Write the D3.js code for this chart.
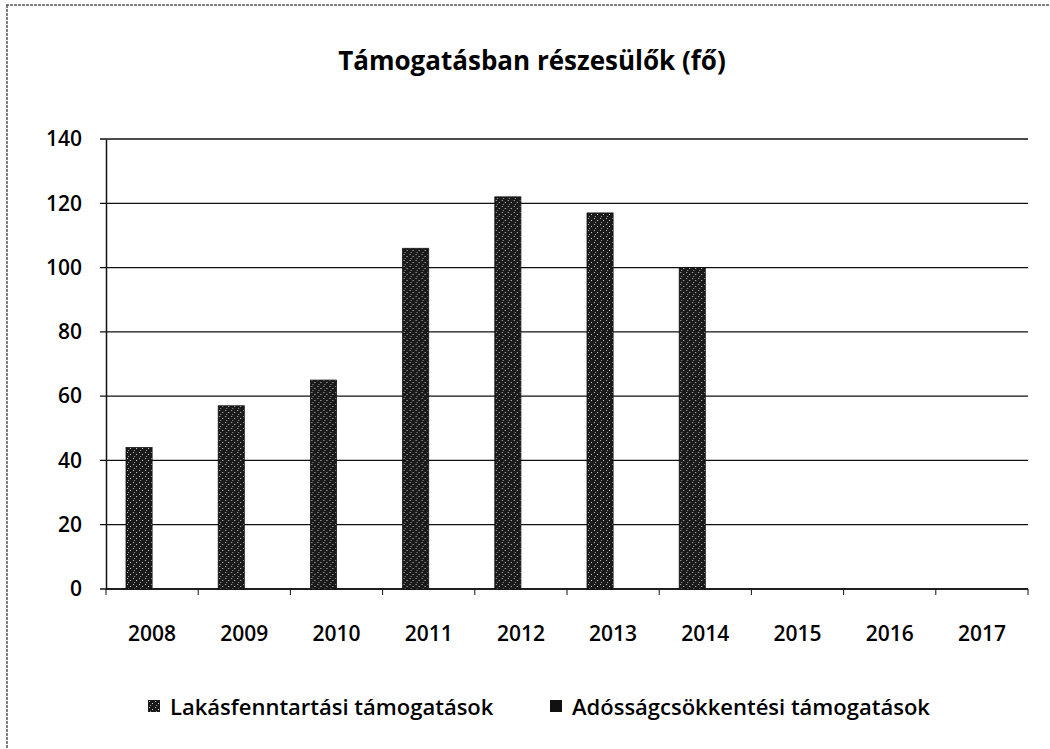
<!DOCTYPE html>
<html>
<head>
<meta charset="utf-8">
<script src="https://cdnjs.cloudflare.com/ajax/libs/d3/7.8.5/d3.min.js"></script>
<style>
  body { margin: 0; background: #fff; }
  text { font-family: "Open Sans", sans-serif; fill: #000; }
</style>
</head>
<body>
<script>
const w = 1050;
const h = 749;

// data
const years = ["2008", "2009", "2010", "2011", "2012", "2013", "2014", "2015", "2016", "2017"];
const lakasfenntartasi = [44, 57, 65, 106, 122, 117, 100, null, null, null];
const adossagcsokkentesi = [0, 0, 0, 0, 0, 0, 0, null, null, null];
const seriesNames = ["Lakásfenntartási támogatások", "Adósságcsökkentési támogatások"];
const yTicks = [0, 20, 40, 60, 80, 100, 120, 140];

const margin = {top: 139, right: 22, bottom: 160, left: 106};
const iw = w - margin.left - margin.right;
const ih = h - margin.top - margin.bottom;

var svg = d3.select("body")
  .append("svg")
  .attr("width", w)
  .attr("height", h);

// speckled fill like the scanned bars
var defs = svg.append("defs");
var pat = defs.append("pattern")
  .attr("id", "speckle")
  .attr("patternUnits", "userSpaceOnUse")
  .attr("width", 6)
  .attr("height", 6);
pat.append("rect").attr("width", 6).attr("height", 6).attr("fill", "#1a1a1a");
pat.append("rect").attr("x", 1).attr("y", 1).attr("width", 1).attr("height", 1).attr("fill", "#bbb");
pat.append("rect").attr("x", 4).attr("y", 3).attr("width", 1).attr("height", 1).attr("fill", "#ccc");
pat.append("rect").attr("x", 2).attr("y", 5).attr("width", 1).attr("height", 1).attr("fill", "#999");

// frame (only top and left edges show in the scan)
svg.append("line").attr("x1", 6).attr("x2", w).attr("y1", 5).attr("y2", 5)
  .attr("stroke", "#555").attr("stroke-width", 1.5).attr("stroke-dasharray", "3,1");
svg.append("line").attr("x1", 7).attr("x2", 7).attr("y1", 5).attr("y2", h)
  .attr("stroke", "#555").attr("stroke-width", 1.5).attr("stroke-dasharray", "3,1");

svg.append("text")
  .attr("x", 532)
  .attr("y", 70)
  .attr("text-anchor", "middle")
  .style("font-size", "26px")
  .style("font-weight", "bold")
  .text("Támogatásban részesülők (fő)");

var g = svg.append("g").attr("transform", "translate(" + margin.left + "," + margin.top + ")");

var x0 = d3.scaleBand().domain(years).range([0, iw]).paddingInner(0.434).paddingOuter(0.217);
var x1 = d3.scaleBand().domain(seriesNames).range([0, x0.bandwidth()]);
var y = d3.scaleLinear().domain([0, 140]).range([ih, 0]);

// gridlines
g.selectAll(".grid")
  .data(yTicks)
  .enter()
  .append("line")
  .attr("x1", -6)
  .attr("x2", iw)
  .attr("y1", d => y(d))
  .attr("y2", d => y(d))
  .attr("stroke", "#111")
  .attr("stroke-width", 1.3);

// y axis
var yAxis = d3.axisLeft(y).tickValues(yTicks).tickSize(0).tickPadding(24);
g.append("g").call(yAxis)
  .call(a => a.select(".domain").attr("stroke", "#111").attr("stroke-width", 1.5))
  .selectAll("text")
  .attr("fill", "#000")
  .style("font-size", "21px")
  .style("font-weight", "600")
  .style("font-family", "'Open Sans', sans-serif");

// x axis with ticks between categories
var xa = g.append("g").attr("transform", "translate(0," + ih + ")");
xa.append("line").attr("x1", 0).attr("x2", iw).attr("stroke", "#111").attr("stroke-width", 1.5);
var step = x0.step();
xa.selectAll(".tk")
  .data(d3.range(years.length + 1))
  .enter()
  .append("line")
  .attr("x1", d => d * step)
  .attr("x2", d => d * step)
  .attr("y1", 0)
  .attr("y2", 6)
  .attr("stroke", "#111");
xa.selectAll(".lbl")
  .data(years)
  .enter()
  .append("text")
  .attr("x", d => x0(d) + x0.bandwidth() / 2)
  .attr("y", 52)
  .attr("text-anchor", "middle")
  .style("font-size", "21px")
  .style("font-weight", "600")
  .text(d => d);

// bars
var rows = years.map((yr, i) => ({year: yr, values: [lakasfenntartasi[i], adossagcsokkentesi[i]]}));
var groups = g.selectAll(".grp")
  .data(rows)
  .enter()
  .append("g")
  .attr("transform", d => "translate(" + x0(d.year) + ",0)");
groups.selectAll("rect")
  .data(d => d.values.map((v, j) => ({name: seriesNames[j], value: v})).filter(d => d.value))
  .enter()
  .append("rect")
  .attr("x", d => x1(d.name))
  .attr("width", x1.bandwidth())
  .attr("y", d => y(d.value))
  .attr("height", d => ih - y(d.value))
  .attr("fill", "url(#speckle)")
  .attr("stroke", "#111")
  .attr("stroke-width", 0.8);

// legend
var legX = [148, 550];
var leg = svg.selectAll(".leg")
  .data(seriesNames)
  .enter()
  .append("g")
  .attr("transform", (d, i) => "translate(" + legX[i] + ",706)");
leg.append("rect")
  .attr("x", 0).attr("y", -6).attr("width", 12).attr("height", 12)
  .attr("fill", (d, i) => i === 0 ? "url(#speckle)" : "#111");
leg.append("text")
  .attr("x", 22)
  .attr("y", 9)
  .style("font-size", "22px")
  .style("font-weight", "600")
  .text(d => d);
</script>
</body>
</html>
